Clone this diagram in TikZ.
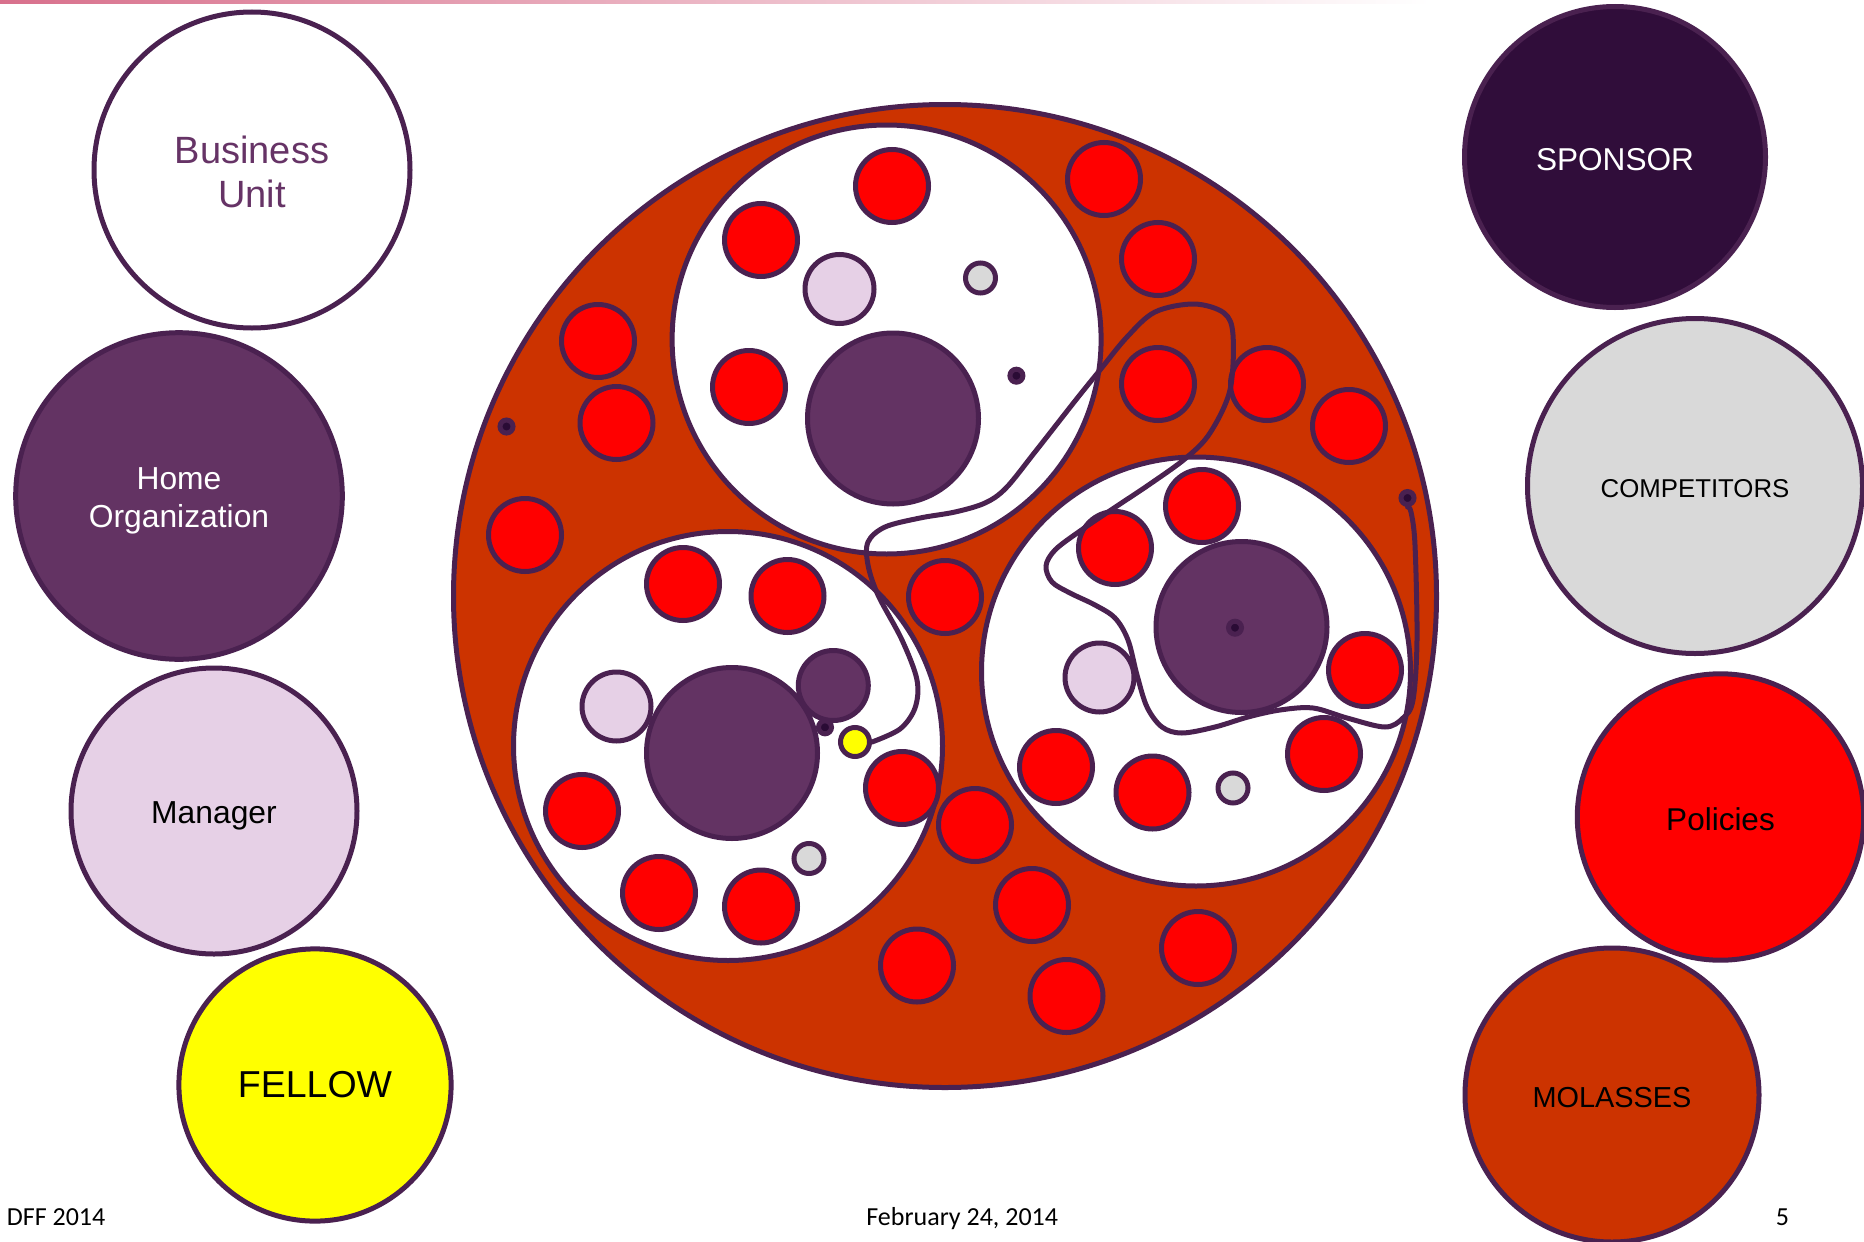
\documentclass[tikz,border=0pt]{standalone}
\usepackage{fontspec}
\setmainfont{Liberation Sans}
\newfontfamily\calib{Carlito}
\definecolor{bordc}{RGB}{74,33,80}
\definecolor{homec}{RGB}{99,51,99}
\definecolor{lilac}{RGB}{230,208,230}
\definecolor{sponc}{RGB}{48,13,58}
\definecolor{greyc}{RGB}{217,217,217}
\definecolor{rust}{RGB}{204,51,0}
\definecolor{butext}{RGB}{102,51,102}
\definecolor{dotc}{RGB}{42,11,53}
\definecolor{topc}{RGB}{216,112,140}
\definecolor{yelc}{RGB}{255,255,0}
\tikzset{
  bub/.style={circle, draw=bordc, line width=5pt, inner sep=0pt, minimum size=#1},
  redc/.style={bub=73pt, fill=red},
  lilc/.style={bub=69pt, fill=lilac},
  greyb/.style={bub=30pt, fill=greyc},
  bigp/.style={bub=171pt, fill=homec},
  whitec/.style={bub=429pt, fill=white},
  dotb/.style={bub=13pt, fill=dotc},
  wire/.style={draw=bordc, line width=5pt, line cap=round},
  caption/.style={inner sep=0pt, align=center}
}
\begin{document}
\begin{tikzpicture}[x=1pt,y=-1pt]
\useasboundingbox (0,0) rectangle (1864,1242);
\clip (0,0) rectangle (1864,1242);
\shade[left color=topc, right color=white] (0,0) rectangle (1430,3);

% left column
\node[bub=316pt, fill=white] (bu) at (252,170) {};
\node[bub=326.6pt, fill=homec] (ho) at (179,496) {};
\node[bub=286pt, fill=lilac] (mg) at (214,811) {};
\node[bub=272.2pt, fill=yelc] (fe) at (315,1085) {};
\node[caption, text=butext, font=\fontsize{38}{44}\selectfont] (tbu) at ([yshift=-2pt]bu.center) {Business\\Unit};
\node[caption, text=white, font=\fontsize{31.8}{38}\selectfont] (tho) at ([yshift=-5pt]ho.center) {Home\\Organization};
\node[caption, text=black, font=\fontsize{31.8}{38}\selectfont] (tmg) at ([yshift=-5pt]mg.center) {Manager};
\node[caption, text=black, font=\fontsize{37.5}{44}\selectfont] (tfe) at (fe.center) {FELLOW};

% right column
\node[bub=301pt, fill=sponc] (sp) at (1615,157) {};
\node[bub=335pt, fill=greyc] (co) at (1695,486) {};
\node[bub=286.4pt, fill=red] (po) at (1720.5,817) {};
\node[bub=294pt, fill=rust] (mo) at (1612,1095) {};
\node[caption, text=white, font=\fontsize{31.6}{38}\selectfont] (tsp) at ([yshift=-2.5pt]sp.center) {SPONSOR};
\node[caption, text=black, font=\fontsize{25.8}{30}\selectfont] (tco) at ([yshift=-2.5pt]co.center) {COMPETITORS};
\node[caption, text=black, font=\fontsize{31.5}{38}\selectfont] (tpo) at ([yshift=-2pt]po.center) {Policies};
\node[caption, text=black, font=\fontsize{28.9}{34}\selectfont] (tmo) at ([yshift=-2.5pt]mo.center) {MOLASSES};

% big disc
\node[bub=983pt, fill=rust] (disc) at (945,596) {};
\node[whitec] (ca) at (886.6,339.5) {};
\node[whitec] (cb) at (728,746) {};
\node[whitec] (cc) at (1196,671.5) {};

% circle A contents
\node[redc] (a1) at (892,186) {};
\node[redc] (a2) at (761,240) {};
\node[redc] (a3) at (749,387) {};
\node[lilc] (al) at (839.5,289) {};
\node[greyb] (ag) at (980.5,278) {};
\node[bigp] (ap) at (893,418.5) {};

% rust reds
\node[redc] (t1) at (1104,179) {};
\node[redc] (t2) at (1158,259) {};
\node[redc] (t3) at (1158,384) {};
\node[redc] (t4) at (1267,384) {};
\node[redc] (t5) at (1349,426) {};
\node[redc] (l1) at (598,341) {};
\node[redc] (l2) at (616.5,423) {};
\node[redc] (l3) at (525,535) {};
\node[redc] (m1) at (945,597) {};
\node[redc] (m2) at (975,825) {};
\node[redc] (m3) at (1032,905) {};
\node[redc] (m4) at (917,965.5) {};
\node[redc] (m5) at (1066.5,996) {};
\node[redc] (m6) at (1198,948) {};

% circle B contents
\node[redc] (b1) at (683,584) {};
\node[redc] (b2) at (787.5,596) {};
\node[redc] (b3) at (902,788) {};
\node[redc] (b4) at (582,811) {};
\node[redc] (b5) at (659,893) {};
\node[redc] (b6) at (761,906.5) {};
\node[lilc] (bl) at (616.5,706.5) {};
\node[greyb] (bg) at (809,858.5) {};
\node[bigp] (bp) at (732,753) {};
\node[bub=70pt, fill=homec] (bs) at (833.3,685.5) {};

% circle C contents
\node[redc] (c1) at (1202,506) {};
\node[redc] (c2) at (1115,548) {};
\node[redc] (c3) at (1365,670) {};
\node[redc] (c4) at (1324,754) {};
\node[redc] (c5) at (1056,767) {};
\node[redc] (c6) at (1152.5,792.5) {};
\node[lilc] (cl) at (1099.5,677.5) {};
\node[greyb] (cg) at (1233,788) {};
\node[bigp] (cp) at (1241.5,627) {};

% small dots
\node[dotb] (d1) at (506.5,426.5) {};
\node[dotb] (d2) at (1016.4,375.7) {};
\node[dotb] (d3) at (1235,627.7) {};
\node[dotb] (d4) at (825,727.3) {};
\node[dotb] (d5) at (1407.5,498) {};

% yellow fellow dot
\node[bub=29pt, fill=yelc] (yel) at (855,742) {};

% the wandering path
\draw[wire] plot[smooth, tension=0.55] coordinates {
 (yel.east) (900,729) (915,708) (917,680) (902,640) (878,595) (868,565)
 (868,542) (885,527) (920,518) (955,512) (985,503) (1006,488) (1035,452)
 (1075,401) (1100,370) (1127,337) (1155,312) (1194,304) (1224,313)
 (1233,335) (1230,390) (1210,433) (1186,458) (1150,484) (1114,508)
 (1080,531) (1055,550) (1046,566) (1052,582) (1070,593) (1095,605)
 (1115,618) (1128,640) (1137,675) (1147,707) (1162,727) (1182,733)
 (1215,727) (1248,717) (1280,710) (1313,708) (1347,718) (1385,727)
 (1403,718) (1413,700) (1417,640) (1415,545) (1411,512) (d5.south)};

% footer
\node[font=\calib\fontsize{26}{30}\selectfont, anchor=base west, inner sep=0pt] (dff) at (6.7,1225) {DFF 2014};
\node[font=\calib\fontsize{26}{30}\selectfont, anchor=base, inner sep=0pt] (date) at (962.2,1225) {February 24, 2014};
\node[font=\calib\fontsize{26}{30}\selectfont, anchor=base, inner sep=0pt] (pg) at (1782.5,1225) {5};
\end{tikzpicture}
\end{document}
